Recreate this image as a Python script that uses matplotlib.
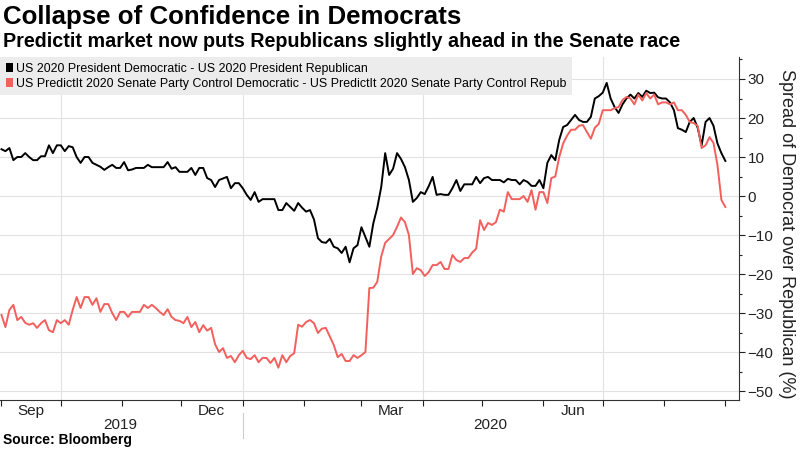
import numpy as np
import pandas as pd
import matplotlib
matplotlib.use("Agg")
import matplotlib.pyplot as plt
import matplotlib.dates as mdates
import matplotlib.transforms as mtransforms
from matplotlib.patches import Patch
from matplotlib.ticker import MultipleLocator

plt.rcParams['font.family'] = ['Liberation Sans', 'DejaVu Sans']

# spread Dem - Rep, read every 2nd day from the picture
president = [12, 11.5, 12.3, 9.2, 10, 10, 11, 10, 9.2, 9.2,
             10.2, 10.2, 13, 11, 13, 13, 11.5, 12.8, 12.5, 10,
             8.5, 10, 10, 8.5, 8, 7.5, 6.7, 7.4, 8, 7.2,
             7.2, 8.7, 6.6, 6.8, 7.2, 7.2, 7.2, 8, 7.4, 7.4,
             7.4, 7.4, 8.7, 7, 7.4, 6.2, 6.2, 6.2, 7.2, 5.4,
             7.2, 7.2, 4.6, 4.1, 2.3, 4.1, 4.5, 4.9, 2, 3.3,
             3.3, 2, 0.3, -1, 1, -1.5, -0.8, -0.8, -0.8, -0.8,
             -3.6, -3.6, -1.8, -2.8, -3.8, -1.8, -3, -4, -3.6, -6,
             -10.8, -11.8, -12, -11, -13, -13.4, -14.6, -13, -17, -13.4,
             -12.6, -8, -10.5, -13, -7, -3, 2.3, 11, 5.4, 7,
             11, 9.5, 7.4, 4.1, -1.5, -0.5, 1, 0.5, 2.5, 4.9,
             0.3, 0.5, 0.3, 0.3, 2, 4.1, 1.3, 3, 3, 3,
             4.9, 3.3, 4.6, 4.9, 4.1, 4.1, 4.1, 3.5, 4.4, 4.1,
             4.1, 3, 4.1, 3.6, 2.6, 2.6, 4.1, 2, 8.5, 10.5,
             9.2, 14.4, 17.7, 18.2, 19.5, 20.8, 19.5, 19, 19, 20.3,
             25, 25.6, 26.5, 29, 25, 22.8, 21.3, 23.5, 25, 26,
             25, 26.4, 25.4, 27, 26.4, 26.5, 25.3, 25, 25, 24,
             22, 17.4, 17, 16.4, 19, 20, 17.5, 13, 19, 20,
             18, 13.5, 11, 9]

senate = [-30.5, -33.6, -29.2, -27.9, -31.8, -31, -32.5, -33, -32.6, -33.8,
          -32.6, -31.8, -34.4, -34.9, -31.8, -32.6, -31.8, -33, -29.2, -25.9,
          -28.7, -25.9, -25.9, -27.9, -26.2, -29.7, -27.7, -27.7, -30, -31.8,
          -29.7, -29.7, -31, -29.7, -29.7, -29.7, -27.9, -28.7, -27.9, -28.7,
          -29.7, -30.5, -29, -31, -31.8, -32, -32.6, -31, -33.6, -32.3,
          -34.9, -33.1, -34.5, -33.8, -38, -40, -39, -41.5, -41, -42.6,
          -40.8, -39.7, -41.5, -41.8, -40.8, -42.6, -41.5, -41.5, -42.8, -41.5,
          -44, -40.8, -42.6, -41, -40.3, -33, -33.5, -32.3, -31.8, -32.6,
          -35.1, -34, -33.8, -36, -38.2, -41.3, -40.5, -42.3, -42.3, -40.8,
          -41.5, -40.8, -40, -23.6, -23.5, -22, -15.5, -12, -11, -10,
          -7.9, -5.5, -6.7, -10, -20, -18.5, -19, -20.5, -19.5, -17.7,
          -17.7, -16.9, -18.7, -18.7, -15.1, -16.4, -16.9, -15.9, -15.9, -14.5,
          -13.5, -6.2, -8.7, -6.9, -7.4, -6.7, -3.5, -4, 1, -0.8,
          -0.8, -0.8, 0, -1.5, 1.5, -3.5, 1, 1, -1.8, 4.6,
          5, 10, 13.5, 15.5, 17, 17, 18, 18.2, 16.4, 14.7,
          17.5, 18.5, 22, 22, 22, 22.5, 22.8, 24.6, 25.4, 25,
          23.5, 26, 24.5, 26.4, 25, 26, 23.5, 24, 24, 23.5,
          24, 22, 22, 20.8, 19, 18.7, 18, 12.3, 13, 15.1,
          13.6, 8, -1, -2.8]

dates = pd.date_range("2019-09-01", periods=len(president), freq="2D")

label1 = "US 2020 President Democratic - US 2020 President Republican"
label2 = "US PredictIt 2020 Senate Party Control Democratic - US PredictIt 2020 Senate Party Control Repub"
black = "#000000"
red = "#f25f5c"

fig = plt.figure(figsize=(8, 4.5), dpi=100)
ax = fig.add_axes([0.0, 0.111, 0.924, 0.762])

ax.plot(dates, president, color=black, lw=1.4, zorder=3)
ax.plot(dates, senate, color=red, lw=1.4, zorder=3)

ax.set_xlim(pd.Timestamp("2019-08-31 06:00"), pd.Timestamp("2020-09-08"))
ax.set_ylim(-52.3, 35.6)

# y axis on the right
ax.yaxis.tick_right()
ax.yaxis.set_major_locator(MultipleLocator(10))
ax.yaxis.set_minor_locator(MultipleLocator(5))
ax.tick_params(axis="y", which="major", length=4, width=0.8, labelsize=11, pad=2, colors="#222222")
ax.tick_params(axis="y", which="minor", length=2, width=0.8, colors="#222222")
ax.grid(axis="y", which="major", color="#e2e2e2", lw=0.8, zorder=0)

# x axis: month boundaries as ticks, quarter names at mid-month
ax.xaxis.set_major_locator(mdates.MonthLocator())
ax.xaxis.set_major_formatter(plt.NullFormatter())
ax.tick_params(axis="x", which="major", length=4, width=0.8, colors="#222222")
qlabels = ["Sep", "Dec", "Mar", "Jun"]
qmid = pd.to_datetime(["2019-09-16", "2019-12-16", "2020-03-16", "2020-06-16"])
ax.set_xticks(qmid, qlabels, minor=True)
ax.tick_params(axis="x", which="minor", length=0, labelsize=11, pad=3, labelcolor="#222222")
for d in pd.to_datetime(["2019-10-01", "2020-01-01", "2020-04-01", "2020-07-01"]):
    ax.axvline(d, color="#e2e2e2", lw=0.8, zorder=0)

for s in ["top", "left"]:
    ax.spines[s].set_visible(False)
ax.spines["right"].set_color("#333333")
ax.spines["bottom"].set_color("#333333")
ax.spines["right"].set_linewidth(0.8)
ax.spines["bottom"].set_linewidth(0.8)

# years under the months
trans = mtransforms.blended_transform_factory(ax.transData, ax.transAxes)
ax.text(pd.Timestamp("2019-10-31"), -0.073, "2019", transform=trans, ha="center", va="center",
        fontsize=11, color="#222222")
ax.text(pd.Timestamp("2020-05-05"), -0.073, "2020", transform=trans, ha="center", va="center",
        fontsize=11, color="#222222")
ax.plot([pd.Timestamp("2020-01-01")] * 2, [-0.038, -0.111], transform=trans, color="#cccccc",
        lw=0.8, clip_on=False)

# legend
handles = [Patch(facecolor=black, edgecolor="none", label=label1),
           Patch(facecolor=red, edgecolor="none", label=label2)]
leg = ax.legend(handles=handles, loc="upper left", bbox_to_anchor=(0.0, 1.0), borderaxespad=0,
                frameon=True, fancybox=False, facecolor="#ececec", edgecolor="none", framealpha=1,
                handlelength=0.6, handleheight=0.8, handletextpad=0.25, borderpad=0.45,
                labelspacing=0.25, fontsize=8.9)
leg.set_zorder(5)

fig.text(0.983, 0.48, "Spread of Democrat over Republican (%)", rotation=270, ha="center", va="center",
         fontsize=13, color="#222222")

fig.text(0.004, 0.962, "Collapse of Confidence in Democrats", fontsize=18.6, fontweight="bold",
         ha="left", va="center")
fig.text(0.004, 0.907, "Predictit market now puts Republicans slightly ahead in the Senate race",
         fontsize=14.2, fontweight="bold", ha="left", va="center")
fig.text(0.004, 0.022, "Source: Bloomberg", fontsize=10, fontweight="bold", ha="left", va="center")

fig.savefig("out.png", dpi=100)
